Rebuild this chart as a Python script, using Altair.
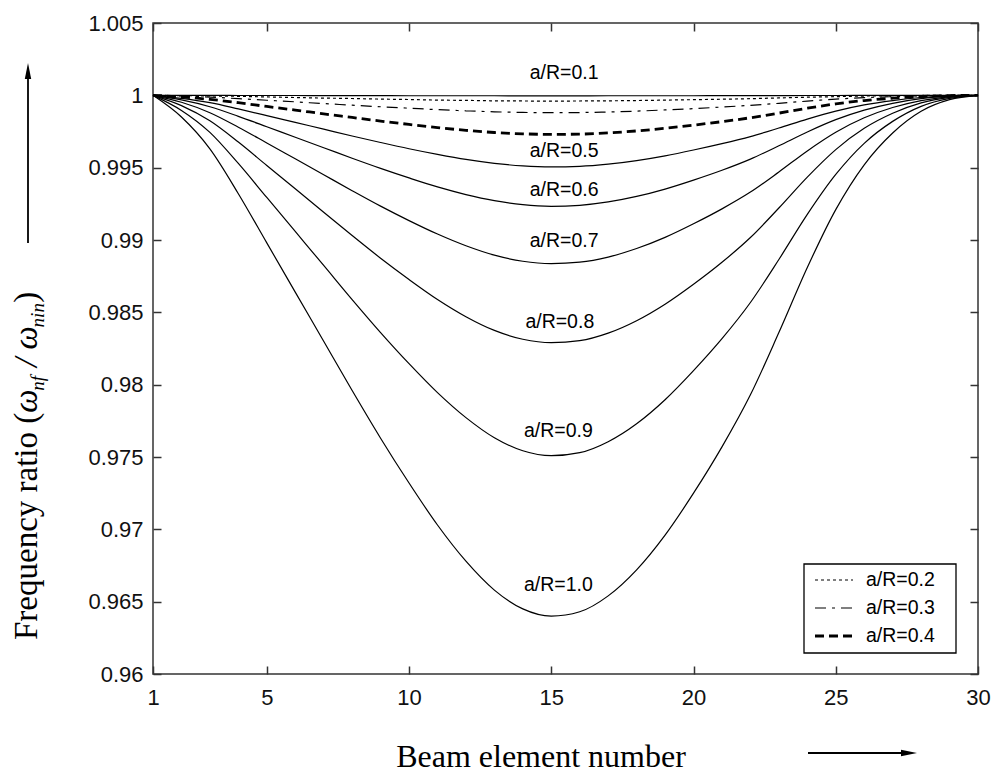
import altair as alt
import pandas as pd

# ---------------- data ----------------
x_elem = [1, 2, 3, 4, 5, 6, 7, 8, 9, 10, 11, 12, 13, 14, 15,
          16, 17, 18, 19, 20, 21, 22, 23, 24, 25, 26, 27, 28, 29, 30]

y_01 = [1, 1, 1, .99999, .99999, .99999, .99998, .99998, .99998, .99997, .99997, .99997, .99997, .99996, .99996,
        .99996, .99997, .99997, .99997, .99997, .99998, .99998, .99998, .99999, .99999, 1, 1, 1, 1, 1]
y_02 = [1, .99998, .99996, .99993, .99989, .99985, .99981, .99978, .99974, .99971, .99967, .99965, .99962, .99961, .9996,
        .99961, .99962, .99964, .99967, .9997, .99973, .99977, .99982, .99987, .99991, .99995, .99997, .99999, 1, 1]
y_03 = [1, .99995, .99988, .99977, .99966, .99955, .99943, .99932, .99921, .99911, .99901, .99893, .99886, .99882, .9988,
        .99881, .99885, .99891, .99899, .99908, .99919, .99931, .99945, .9996, .99974, .99984, .99991, .99996, .99999, 1]
y_04 = [1, .99989, .99972, .99949, .99923, .99898, .99872, .99847, .99822, .99799, .99777, .99758, .99743, .99734, .9973,
        .99732, .9974, .99754, .99772, .99794, .99818, .99845, .99877, .99911, .99941, .99964, .9998, .99992, .99998, 1]
y_05 = [1, .99979, .99949, .99906, .9986, .99813, .99766, .99719, .99674, .99631, .99592, .99557, .9953, .99512, .99505,
        .99509, .99524, .99549, .99582, .99622, .99666, .99715, .99774, .99836, .99891, .99934, .99964, .99985, .99996, 1]
y_06 = [1, .99968, .99921, .99855, .99783, .9971, .99638, .99565, .99495, .99429, .99367, .99314, .99272, .99244, .99233,
        .9924, .99263, .99301, .99352, .99414, .99482, .99559, .99651, .99747, .99832, .99898, .99945, .99977, .99994, 1]
y_07 = [1, .99952, .9988, .9978, .99671, .99561, .99451, .99341, .99234, .99134, .99041, .9896, .98895, .98853, .98837,
        .98847, .98882, .98941, .99018, .99112, .99215, .99331, .9947, .99616, .99745, .99845, .99916, .99964, .9999, 1]
y_08 = [1, .99929, .99824, .99677, .99515, .99354, .99192, .99031, .98874, .98727, .98589, .9847, .98375, .98314, .9829,
        .98304, .98356, .98442, .98556, .98694, .98846, .99017, .99221, .99435, .99625, .99772, .99876, .99948, .99986, 1]
y_09 = [1, .99896, .99744, .99529, .99294, .99059, .98824, .98588, .9836, .98145, .97945, .97772, .97633, .97543, .97509,
        .9753, .97606, .9773, .97896, .98097, .98318, .98568, .98865, .99177, .99453, .99668, .9982, .99924, .99979, 1]
y_10 = [1, .9985, .9963, .9932, .9898, .9864, .983, .9796, .9763, .9732, .9703, .9678, .9658, .9645, .964,
        .9643, .9654, .9672, .9696, .9725, .9757, .9793, .9836, .9881, .9921, .9952, .9974, .9989, .9997, 1]

series_names = ["0.1", "0.2", "0.3", "0.4", "0.5", "0.6", "0.7", "0.8", "0.9", "1.0"]
series_values = [y_01, y_02, y_03, y_04, y_05, y_06, y_07, y_08, y_09, y_10]

x_ticks = [1, 5, 10, 15, 20, 25, 30]
y_ticks = [0.96, 0.965, 0.97, 0.975, 0.98, 0.985, 0.99, 0.995, 1.0, 1.005]

label_text = ["a/R=0.1", "a/R=0.5", "a/R=0.6", "a/R=0.7", "a/R=0.8", "a/R=0.9", "a/R=1.0"]
label_x = [15.45, 15.45, 15.45, 15.45, 15.3, 15.25, 15.25]
label_y = [1.00157, 0.99615, 0.99343, 0.98992, 0.9843, 0.97678, 0.96618]

legend_labels = ["a/R=0.2", "a/R=0.3", "a/R=0.4"]

# ---------------- tables ----------------
rows = []
for name, ys in zip(series_names, series_values):
    for xv, yv in zip(x_elem, ys):
        rows.append({"elem": xv, "ratio": yv, "series": name})
df = pd.DataFrame(rows)
df_lab = pd.DataFrame({"elem": label_x, "ratio": label_y, "txt": label_text})
dummy = pd.DataFrame({"d": [0]})

SANS = "Liberation Sans"
TICKFONT = "'Liberation Sans Narrow', 'Liberation Sans', sans-serif"
SERIF = "Liberation Serif"

xscale = alt.Scale(domain=[1, 30], nice=False, zero=False)
yscale = alt.Scale(domain=[0.96, 1.005], nice=False, zero=False)

X = alt.X("elem:Q", scale=xscale, title=None,
          axis=alt.Axis(values=x_ticks, orient="bottom", offset=-8, tickSize=8, domain=False, grid=False,
                        labelPadding=13, labelFont=TICKFONT, labelFontSize=22, labelColor="#111",
                        tickColor="#333", tickWidth=1.5, labelFlush=False, labelOverlap=False))
Y = alt.Y("ratio:Q", scale=yscale, title=None,
          axis=alt.Axis(values=y_ticks, orient="left", offset=-8, tickSize=8, domain=False, grid=False,
                        labelPadding=10, labelFont=TICKFONT, labelFontSize=22, labelColor="#111", format=".3~f",
                        tickColor="#333", tickWidth=1.5, labelFlush=False, labelOverlap=False))
X2 = alt.X("elem:Q", scale=xscale, title=None,
           axis=alt.Axis(values=x_ticks, orient="top", offset=-8, tickSize=8, domain=False, grid=False,
                         labels=False, tickColor="#333", tickWidth=1.5))
Y2 = alt.Y("ratio:Q", scale=yscale, title=None,
           axis=alt.Axis(values=y_ticks, orient="right", offset=-8, tickSize=8, domain=False, grid=False,
                         labels=False, tickColor="#333", tickWidth=1.5))
XN = alt.X("elem:Q", scale=xscale, axis=None)
YN = alt.Y("ratio:Q", scale=yscale, axis=None)

base = alt.Chart(df)

solid = base.transform_filter(
    alt.FieldOneOfPredicate(field="series", oneOf=["0.1", "0.5", "0.6", "0.7", "0.8", "0.9", "1.0"])
).mark_line(color="black", strokeWidth=1.2, interpolate="monotone").encode(x=X, y=Y, detail="series:N")

dotted = base.transform_filter(alt.datum.series == "0.2").mark_line(
    color="black", strokeWidth=1.2, strokeDash=[3, 3], interpolate="monotone").encode(x=XN, y=YN)
dashdot = base.transform_filter(alt.datum.series == "0.3").mark_line(
    color="black", strokeWidth=1.2, strokeDash=[11, 6, 3, 6], interpolate="monotone").encode(x=XN, y=YN)
dashed = base.transform_filter(alt.datum.series == "0.4").mark_line(
    color="black", strokeWidth=2.8, strokeDash=[9, 5], interpolate="monotone").encode(x=XN, y=YN)

frame = base.mark_line(opacity=0).encode(x=X2, y=Y2, detail="series:N")

labels = alt.Chart(df_lab).mark_text(font=SANS, fontSize=19.5, color="black", align="center",
                                     baseline="middle").encode(x=XN, y=YN, text="txt:N")

# ---------------- legend (manual box) ----------------
leg_box = alt.Chart(dummy).mark_rect(fill="white", stroke="black", strokeWidth=1.3).encode(
    x=alt.value(651), x2=alt.value(803), y=alt.value(541), y2=alt.value(630))
leg_l1 = alt.Chart(dummy).mark_rule(color="black", strokeWidth=1.2, strokeDash=[3, 3]).encode(
    x=alt.value(662), x2=alt.value(700), y=alt.value(557))
leg_l2 = alt.Chart(dummy).mark_rule(color="black", strokeWidth=1.2, strokeDash=[11, 6, 3, 6]).encode(
    x=alt.value(662), x2=alt.value(700), y=alt.value(585))
leg_l3 = alt.Chart(dummy).mark_rule(color="black", strokeWidth=2.8, strokeDash=[9, 5]).encode(
    x=alt.value(662), x2=alt.value(700), y=alt.value(613))
leg_texts = [
    alt.Chart(dummy).mark_text(text=t, font=SANS, fontSize=19.5, color="black", align="left",
                               baseline="middle").encode(x=alt.value(713), y=alt.value(yy))
    for t, yy in zip(legend_labels, [557, 585, 613])
]


def txt(text, x, y, size, style="normal", angle=0, align="left", baseline="alphabetic"):
    return alt.Chart(dummy).mark_text(text=text, font=SERIF, fontSize=size, fontStyle=style, angle=angle,
                                      align=align, baseline=baseline, color="black").encode(
        x=alt.value(x), y=alt.value(y))


# axis titles (with subscripts) and arrows
xtitle = txt("Beam element number", 388, 744, 32, align="center")
ytitle = [
    txt("Frequency ratio (", -116, 617, 33, angle=270),
    txt("ω", -116, 389.7, 33, style="italic", angle=270),
    txt("nf", -109, 367.7, 19, style="italic", angle=270),
    txt("/", -116, 343.9, 33, style="italic", angle=270),
    txt("ω", -116, 326.4, 33, style="italic", angle=270),
    txt("nin", -109, 304.4, 19, style="italic", angle=270),
    txt(")", -116, 279.8, 33, angle=270),
]

up_line = alt.Chart(dummy).mark_rule(color="black", strokeWidth=1.8).encode(
    x=alt.value(-125), y=alt.value(220), y2=alt.value(50))
up_head = alt.Chart(dummy).mark_point(shape="M0,-1L0.4,1L-0.4,1Z", filled=True, size=256, color="black",
                                      opacity=1).encode(x=alt.value(-125), y=alt.value(48))
rt_line = alt.Chart(dummy).mark_rule(color="black", strokeWidth=1.8).encode(
    x=alt.value(655), x2=alt.value(754), y=alt.value(730))
rt_head = alt.Chart(dummy).mark_point(shape="M1,0L-1,-0.4L-1,0.4Z", filled=True, size=256, color="black",
                                      opacity=1).encode(x=alt.value(756), y=alt.value(730))

chart = alt.layer(
    frame, solid, dotted, dashdot, dashed, labels,
    leg_box, leg_l1, leg_l2, leg_l3, *leg_texts,
    xtitle, *ytitle, up_line, up_head, rt_line, rt_head
).resolve_axis(x="independent", y="independent").properties(
    width=825, height=651,
    autosize=alt.AutoSizeParams(type="none"),
    padding={"left": 153, "top": 23, "right": 15, "bottom": 100},
    background="white",
).configure_view(stroke="#333", strokeWidth=1.5)

chart.save("out.html", embed_options={"renderer": "svg", "actions": False})
